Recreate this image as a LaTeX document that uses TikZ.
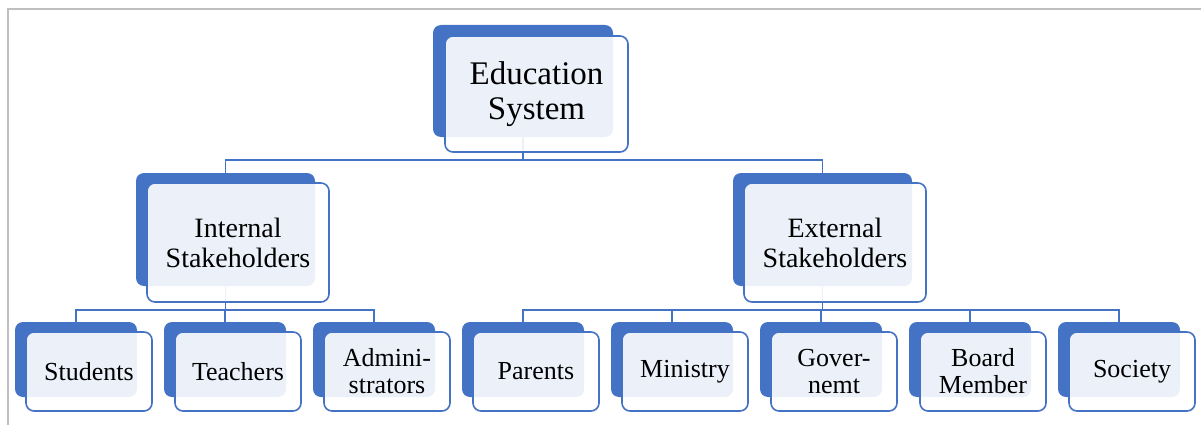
\documentclass[tikz,border=0pt]{standalone}
\usepackage{fontspec}
\setmainfont{Liberation Serif}
\definecolor{sablue}{HTML}{4472C4}
\definecolor{frameGray}{HTML}{BFBFBF}
\begin{document}
\begin{tikzpicture}[x=1pt,y=-1pt,
  backbox/.style={draw=none, fill=sablue, rounded corners=8pt, inner sep=0pt},
  frontbox/.style={draw=sablue, line width=1.6pt, fill=white, fill opacity=0.9, text opacity=1,
     rounded corners=8pt, inner sep=0pt, align=center, text=black},
  topfont/.style={font=\fontsize{33}{35}\selectfont},
  midfont/.style={font=\fontsize{28}{30}\selectfont},
  lowfont/.style={font=\fontsize{26}{27}\selectfont},
  conn/.style={draw=sablue, line width=1.8pt}
]
\useasboundingbox (0,0) rectangle (1201,425);
\draw[frameGray, line width=2pt] (8,425) -- (8,9) -- (1201,9);

% back boxes
\node[backbox, minimum width=180pt, minimum height=112pt] (edu-back) at (523,81) {};
\node[backbox, minimum width=179pt, minimum height=113pt] (int-back) at (225.5,229.5) {};
\node[backbox, minimum width=179pt, minimum height=113pt] (ext-back) at (822.5,229.5) {};
\foreach \n [count=\k from 0] in {stu,tea,adm,par,min,gov,boa,soc}{
  \node[backbox, minimum width=122pt, minimum height=75pt] (\n-back) at (76+149*\k,359.5) {};
}

% connectors
\coordinate (bus1) at (0,160);
\coordinate (bus2) at (0,310);
\draw[conn] (edu-back.south) -- (edu-back.south |- bus1) -| (int-back.north);
\draw[conn] (edu-back.south |- bus1) -| (ext-back.north);
\foreach \n in {stu,tea,adm}{
  \draw[conn] (int-back.south) -- (int-back.south |- bus2) -| (\n-back.north);
}
\foreach \n in {par,min,gov,boa,soc}{
  \draw[conn] (ext-back.south) -- (ext-back.south |- bus2) -| (\n-back.north);
}

% front boxes
\node[frontbox, topfont, minimum width=183pt, minimum height=116pt] (edu) at (536.5,94) {Education\\System};
\node[frontbox, midfont, minimum width=182pt, minimum height=119pt] (int) at (238,242.5) {Internal\\Stakeholders};
\node[frontbox, midfont, minimum width=182pt, minimum height=119pt] (ext) at (835,242.5) {External\\Stakeholders};
\foreach \n/\t [count=\k from 0] in {stu/Students,tea/Teachers,adm/{Admini-\\strators},par/Parents,min/Ministry,gov/{Gover-\\nemt},boa/{Board\\Member},soc/Society}{
  \node[frontbox, lowfont, minimum width=126pt, minimum height=79pt] (\n) at (89+149*\k,371.5) {\t};
}
\end{tikzpicture}
\end{document}
